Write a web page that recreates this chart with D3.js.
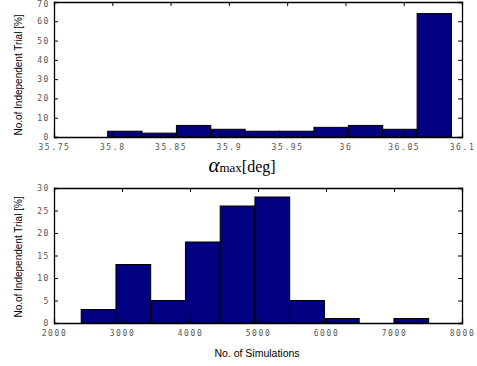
<!DOCTYPE html>
<html>
<head>
<meta charset="utf-8">
<script src="https://cdn.jsdelivr.net/npm/d3@7"></script>
<style>
  html, body { margin: 0; padding: 0; background: #fff; }
  svg { display: block; }
  .tick text { font-family: "DejaVu Sans Mono", monospace; font-size: 8px; fill: #555; letter-spacing: 1.6px; }
  .ylab { font-family: "Liberation Sans", Arial, sans-serif; font-size: 10px; fill: #000; }
</style>
</head>
<body>
<svg id="chart" width="477" height="366"></svg>
<script>
// Histogram of the maximum angle (bin edges and percentage per bin)
const alphaEdges = [35.796, 35.8255, 35.855, 35.8845, 35.914, 35.9435, 35.973, 36.0025, 36.032, 36.0615, 36.091];
const alphaPct = [3, 2, 6, 4, 3, 3, 5, 6, 4, 64];
const alphaTicks = [35.75, 35.8, 35.85, 35.9, 35.95, 36, 36.05, 36.1];
const alphaYTicks = [0, 10, 20, 30, 40, 50, 60, 70];

// Histogram of the number of simulations
const simEdges = [2400, 2911, 3422, 3933, 4444, 4955, 5466, 5977, 6488, 6999, 7510];
const simPct = [3, 13, 5, 18, 26, 28, 5, 1, 0, 1];
const simTicks = [2000, 3000, 4000, 5000, 6000, 7000, 8000];
const simYTicks = [0, 5, 10, 15, 20, 25, 30];

const svg = d3.select("#chart");
const barFill = "#000080";

function panel(opts) {
  const { left, right, top, bottom, xDomain, yDomain, edges, values, xTicks, yTicks } = opts;
  const x = d3.scaleLinear().domain(xDomain).range([left, right]);
  const y = d3.scaleLinear().domain(yDomain).range([bottom, top]);
  const g = svg.append("g");

  // bars
  g.selectAll("rect.bar")
    .data(values.map((v, i) => ({ x0: edges[i], x1: edges[i + 1], v })).filter(d => d.v > 0))
    .join("rect")
    .attr("class", "bar")
    .attr("x", d => x(d.x0))
    .attr("width", d => x(d.x1) - x(d.x0))
    .attr("y", d => y(d.v))
    .attr("height", d => y(0) - y(d.v))
    .attr("fill", barFill)
    .attr("stroke", "#000")
    .attr("stroke-width", 1);

  const tl = 4;
  // bottom axis with inward ticks
  g.append("g").attr("transform", `translate(0,${bottom})`)
    .call(d3.axisBottom(x).tickValues(xTicks).tickSize(-tl).tickPadding(7).tickFormat(d3.format("")));
  // top axis (ticks only)
  g.append("g").attr("transform", `translate(0,${top})`)
    .call(d3.axisTop(x).tickValues(xTicks).tickSize(-tl).tickFormat(""));
  // left axis
  const ya = g.append("g").attr("transform", `translate(${left},0)`)
    .call(d3.axisLeft(y).tickValues(yTicks).tickSize(-tl).tickPadding(4));
  // right axis (ticks only)
  g.append("g").attr("transform", `translate(${right},0)`)
    .call(d3.axisRight(y).tickValues(yTicks).tickSize(-tl).tickFormat(""));

  // keep the topmost tick label inside the drawing area
  ya.selectAll(".tick text").filter(d => y(d) < 5).attr("dy", "0.6em");

  g.selectAll(".domain").attr("stroke", "#000").attr("stroke-width", 1.3);
  g.selectAll(".tick line").attr("stroke", "#000").attr("stroke-width", 1);
  return { x, y, g };
}

// upper panel
panel({
  left: 54, right: 462, top: 2, bottom: 137,
  xDomain: [35.75, 36.1], yDomain: [0, 70],
  edges: alphaEdges, values: alphaPct, xTicks: alphaTicks, yTicks: alphaYTicks
});
svg.append("text").attr("class", "ylab")
  .attr("transform", "translate(22,75) rotate(-90)")
  .attr("text-anchor", "middle")
  .text("No.of Independent Trial [%]");

const xl = svg.append("text")
  .attr("x", 242).attr("y", 172)
  .attr("text-anchor", "middle")
  .attr("font-family", "'Liberation Serif', 'Times New Roman', serif");
xl.append("tspan").attr("font-style", "italic").attr("font-size", "21px").text("α");
xl.append("tspan").attr("font-size", "13px").text("max");
xl.append("tspan").attr("font-size", "16px").text("[deg]");

// lower panel
panel({
  left: 54, right: 462, top: 188, bottom: 323,
  xDomain: [2000, 8000], yDomain: [0, 30],
  edges: simEdges, values: simPct, xTicks: simTicks, yTicks: simYTicks
});
svg.append("text").attr("class", "ylab")
  .attr("transform", "translate(22,257) rotate(-90)")
  .attr("text-anchor", "middle")
  .text("No.of Independent Trial [%]");

svg.append("text")
  .attr("x", 257).attr("y", 357)
  .attr("text-anchor", "middle")
  .attr("font-family", "'Liberation Sans', Arial, sans-serif")
  .attr("font-size", "10.5px")
  .text("No. of Simulations");
</script>
</body>
</html>
